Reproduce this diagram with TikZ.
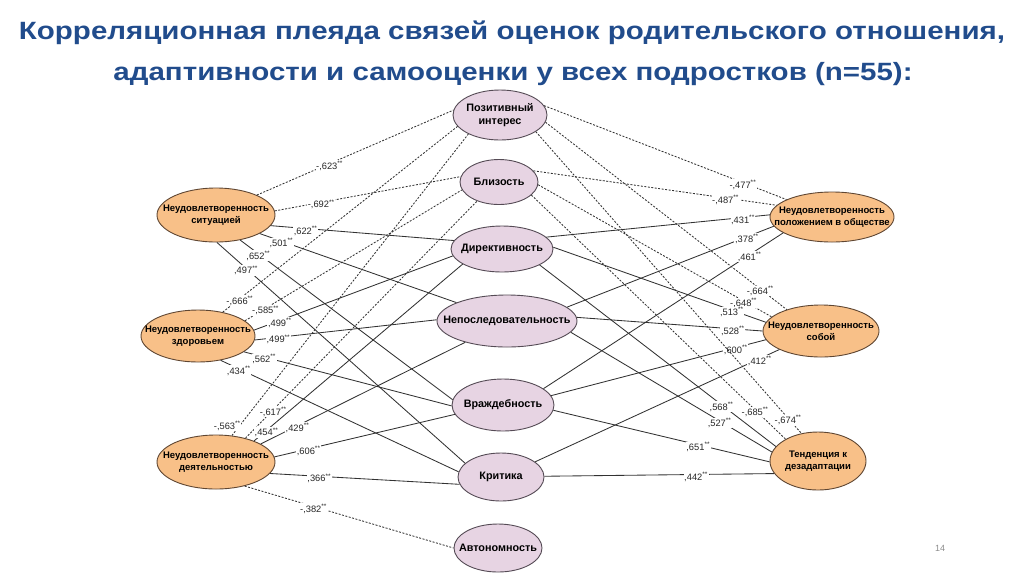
\documentclass[tikz,border=0pt]{standalone}
\usepackage{fontspec}
\setmainfont{Liberation Sans}
\usetikzlibrary{shapes.geometric}
\definecolor{titleblue}{RGB}{33,76,140}
\definecolor{orfill}{RGB}{248,192,136}
\definecolor{ordraw}{RGB}{95,70,50}
\definecolor{pkfill}{RGB}{231,212,227}
\definecolor{pkdraw}{RGB}{85,75,85}
\definecolor{edgecol}{RGB}{50,50,50}
\newcommand{\corr}[1]{#1\textsuperscript{**}}
\newcommand{\wide}[1]{\scalebox{1.18}[1]{#1}}
\begin{document}
\begin{tikzpicture}[x=1pt,y=-1pt,
  oell/.style={ellipse, draw=ordraw, fill=orfill, line width=0.9pt, inner sep=0pt},
  pell/.style={ellipse, draw=pkdraw, fill=pkfill, line width=0.9pt, inner sep=0pt},
  otxt/.style={align=center, inner sep=0pt, font=\fontsize{9.5}{12}\selectfont\bfseries},
  ptxt/.style={align=center, inner sep=0pt, font=\fontsize{10.8}{13.5}\selectfont\bfseries},
  sol/.style={draw=edgecol, line width=0.85pt},
  dsh/.style={draw=edgecol, line width=0.85pt, dash pattern=on 2pt off 1.5pt},
  lab/.style={fill=white, inner sep=0.6pt, yshift=-2pt, font=\fontsize{9.3}{10}\selectfont, text=black!85},
  ttl/.style={font=\fontsize{25}{28}\selectfont\bfseries, text=titleblue, anchor=base}
]
\useasboundingbox (0,0) rectangle (1024,574);

% title
\node[ttl] (t1) at (512,39) {\wide{Корреляционная плеяда связей оценок родительского отношения,}};
\node[ttl] (t2) at (513,80) {\wide{адаптивности и самооценки у всех подростков (n=55):}};
\node[font=\fontsize{9}{10}\selectfont, text=black!45] (pg) at (940,548) {14};

% central nodes
\node[pell, minimum width=94pt, minimum height=50pt] (P1) at (500,115) {};
\node[pell, minimum width=78pt, minimum height=45pt] (P2) at (499,182) {};
\node[pell, minimum width=102pt, minimum height=46pt] (P3) at (502,249) {};
\node[pell, minimum width=140pt, minimum height=52pt] (P4) at (507,321) {};
\node[pell, minimum width=102pt, minimum height=52pt] (P5) at (503,405) {};
\node[pell, minimum width=86pt, minimum height=48pt] (P6) at (501,477) {};
\node[pell, minimum width=88pt, minimum height=48pt] (P7) at (498,548) {};
% left nodes
\node[oell, minimum width=118pt, minimum height=54pt] (L1) at (216,215) {};
\node[oell, minimum width=114pt, minimum height=52pt] (L2) at (198,336) {};
\node[oell, minimum width=118pt, minimum height=54pt] (L3) at (216,462) {};
% right nodes
\node[oell, minimum width=124pt, minimum height=50pt] (R1) at (832,217) {};
\node[oell, minimum width=116pt, minimum height=52pt] (R2) at (821,331) {};
\node[oell, minimum width=96pt, minimum height=58pt] (R3) at (818,461) {};

% edges from left nodes
\draw[dsh] (L1.26) -- node[lab,pos=.37] (e1) {\corr{-,623}} (P1.174);
\draw[dsh] (L1.4) -- node[lab,pos=.25] (e2) {\corr{-,692}} (P2.172);
\draw[sol] (L1.-11) -- node[lab,pos=.19] (e3) {\corr{,622}} (P3.170);
\draw[sol] (L1.-23) -- node[lab,pos=.11] (e4) {\corr{,501}} (P4.160);
\draw[sol] (L1.-46) -- node[lab,pos=.085] (e5) {\corr{,652}} (P5.174);
\draw[sol] (L1.-88) -- node[lab,pos=.117] (e6) {\corr{,497}} (P6.159);

\draw[dsh] (L2.44) -- node[lab,pos=.073] (e7) {\corr{-,666}} (P1.195);
\draw[dsh] (L2.18) -- node[lab,pos=.095] (e8) {\corr{-,585}} (P2.192);
\draw[sol] (L2.6) -- node[lab,pos=.13] (e9) {\corr{,499}} (P3.188);
\draw[sol] (L2.-4) -- node[lab,pos=.13] (e10) {\corr{,499}} (P4.179);
\draw[sol] (L2.-19) -- node[lab,pos=.097] (e11) {\corr{,562}} (P5.181);
\draw[sol] (L2.-47) -- node[lab,pos=.076] (e12) {\corr{,434}} (P6.173);

\draw[dsh] (L3.59) -- node[lab,pos=.04,xshift=-14pt] (e13) {\corr{-,563}} (P1.211);
\draw[dsh] (L3.39) -- node[lab,pos=.12] (e14) {\corr{-,617}} (P2.221);
\draw[sol] (L3.29) -- node[lab,pos=.06] (e15) {\corr{,454}} (P3.201);
\draw[sol] (L3.22) -- node[lab,pos=.18] (e16) {\corr{,429}} (P4.207);
\draw[sol] (L3.5) -- node[lab,pos=.19] (e17) {\corr{,606}} (P5.191);
\draw[sol] (L3.-12) -- node[lab,pos=.26] (e18) {\corr{,366}} (P6.190);
\draw[dsh] (L3.-40) -- node[lab,pos=.33] (e19) {\corr{-,382}} (P7.180);

% edges to right nodes
\draw[dsh] (P1.12) -- node[lab,pos=.82] (e20) {\corr{-,477}} (R1.159);
\draw[dsh] (P2.18) -- node[lab,pos=.79] (e21) {\corr{-,487}} (R1.168);
\draw[sol] (P3.15) -- node[lab,pos=.88] (e22) {\corr{,431}} (R1.178);
\draw[sol] (P4.13) -- node[lab,pos=.87] (e23) {\corr{,378}} (R1.189);
\draw[sol] (P5.22) -- node[lab,pos=.86] (e24) {\corr{,461}} (R1.198);

\draw[dsh] (P1.-9) -- node[lab,pos=.89] (e25) {\corr{-,664}} (R2.148);
\draw[dsh] (P2.-4) -- node[lab,pos=.88] (e26) {\corr{-,648}} (R2.164);
\draw[sol] (P3.2) -- node[lab,pos=.84] (e27) {\corr{,513}} (R2.171);
\draw[sol] (P4.3) -- node[lab,pos=.84] (e28) {\corr{,528}} (R2.180);
\draw[sol] (P5.11) -- node[lab,pos=.86] (e29) {\corr{,600}} (R2.189);
\draw[sol] (P6.24) -- node[lab,pos=.92] (e30) {\corr{,412}} (R2.204);

\draw[dsh] (P1.-25) -- node[lab,pos=.95] (e31) {\corr{-,674}} (R3.121);
\draw[dsh] (P2.-22) -- node[lab,pos=.88] (e32) {\corr{-,685}} (R3.146);
\draw[sol] (P3.-23) -- node[lab,pos=.77] (e33) {\corr{,568}} (R3.161);
\draw[sol] (P4.-10) -- node[lab,pos=.74] (e34) {\corr{,527}} (R3.169);
\draw[sol] (P5.-6) -- node[lab,pos=.67] (e35) {\corr{,651}} (R3.181);
\draw[sol] (P6.1) -- node[lab,pos=.66] (e36) {\corr{,442}} (R3.196);

% node texts
\node[ptxt] (P1t) at (P1) {Позитивный\\интерес};
\node[ptxt] (P2t) at (P2) {Близость};
\node[ptxt] (P3t) at (P3) {Директивность};
\node[ptxt] (P4t) at (P4) {Непоследовательность};
\node[ptxt] (P5t) at (P5) {Враждебность};
\node[ptxt] (P6t) at (P6) {Критика};
\node[ptxt] (P7t) at (P7) {Автономность};
\node[otxt] (L1t) at (L1) {Неудовлетворенность\\ситуацией};
\node[otxt] (L2t) at (L2) {Неудовлетворенность\\здоровьем};
\node[otxt] (L3t) at (L3) {Неудовлетворенность\\деятельностью};
\node[otxt] (R1t) at (R1) {Неудовлетворенность\\положением в обществе};
\node[otxt] (R2t) at (R2) {Неудовлетворенность\\собой};
\node[otxt] (R3t) at (R3) {Тенденция к\\дезадаптации};
\end{tikzpicture}
\end{document}
